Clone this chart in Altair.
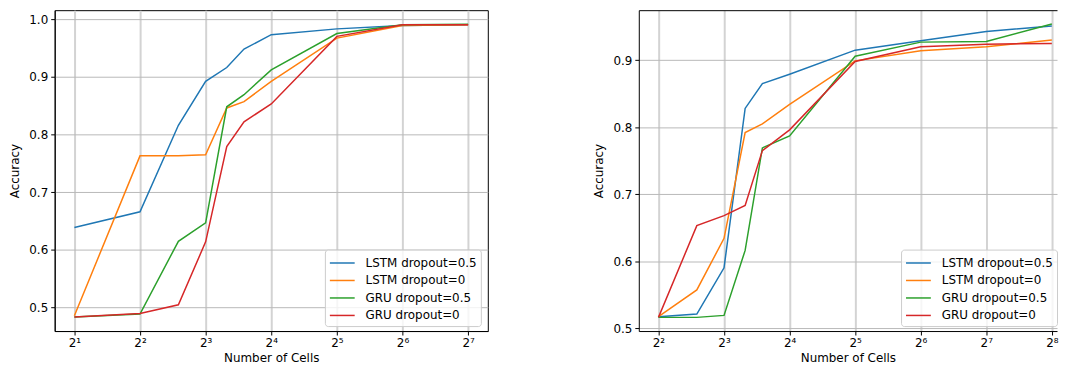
import altair as alt
import pandas as pd

series_names = ["LSTM dropout=0.5", "LSTM dropout=0", "GRU dropout=0.5", "GRU dropout=0"]
series_colors = ["#1f77b4", "#ff7f0e", "#2ca02c", "#d62728"]

# Left panel
left_cells = [2, 4, 6, 8, 10, 12, 16, 32, 64, 128]
left_lstm_05 = [0.639, 0.666, 0.816, 0.892, 0.916, 0.948, 0.973, 0.983, 0.989, 0.990]
left_lstm_0 = [0.486, 0.763, 0.763, 0.765, 0.846, 0.857, 0.892, 0.967, 0.989, 0.990]
left_gru_05 = [0.484, 0.489, 0.615, 0.647, 0.848, 0.869, 0.912, 0.975, 0.990, 0.991]
left_gru_0 = [0.484, 0.490, 0.505, 0.614, 0.779, 0.822, 0.853, 0.970, 0.990, 0.990]

# Right panel
right_cells = [4, 6, 8, 10, 12, 16, 32, 64, 128, 256]
right_lstm_05 = [0.517, 0.521, 0.590, 0.828, 0.865, 0.879, 0.915, 0.929, 0.943, 0.951]
right_lstm_0 = [0.517, 0.557, 0.634, 0.792, 0.805, 0.834, 0.899, 0.914, 0.920, 0.930]
right_gru_05 = [0.516, 0.516, 0.519, 0.616, 0.769, 0.787, 0.906, 0.927, 0.928, 0.954]
right_gru_0 = [0.516, 0.653, 0.668, 0.683, 0.765, 0.796, 0.898, 0.920, 0.924, 0.925]

left_x_ticks = [2, 4, 8, 16, 32, 64, 128]
left_x_labels = ["2¹", "2²", "2³", "2⁴", "2⁵", "2⁶", "2⁷"]
right_x_ticks = [4, 8, 16, 32, 64, 128, 256]
right_x_labels = ["2²", "2³", "2⁴", "2⁵", "2⁶", "2⁷", "2⁸"]
left_y_ticks = [0.5, 0.6, 0.7, 0.8, 0.9, 1.0]
right_y_ticks = [0.5, 0.6, 0.7, 0.8, 0.9]

FONT = "DejaVu Sans"
PX_PER_OCTAVE = 66.0
PLOT_H = 323


def make_df(cells, lists):
    rows = []
    for name, vals in zip(series_names, lists):
        for c, v in zip(cells, vals):
            rows.append({"cells": c, "acc": v, "series": name})
    return pd.DataFrame(rows)


def label_expr(ticks, labels):
    expr = "''"
    for t, l in reversed(list(zip(ticks, labels))):
        expr = f"datum.value == {t} ? '{l}' : ({expr})"
    return expr


def panel(df, xdomain, ydomain, xticks, xlabels, yticks, width, lx, ly, framed):
    xscale = alt.Scale(type="log", base=2, domain=xdomain, nice=False)
    yscale = alt.Scale(domain=ydomain, zero=False, nice=False)
    lines = alt.Chart(df).mark_line(strokeWidth=1.5, clip=True).encode(
        x=alt.X("cells:Q", scale=xscale,
                axis=alt.Axis(values=xticks, labelExpr=label_expr(xticks, xlabels),
                              title="Number of Cells")),
        y=alt.Y("acc:Q", scale=yscale,
                axis=alt.Axis(values=yticks, format=".1f", title="Accuracy")),
        color=alt.Color(
            "series:N",
            scale=alt.Scale(domain=series_names, range=series_colors),
            legend=alt.Legend(
                orient="none", legendX=lx, legendY=ly, title=None,
                symbolType="M-1,0H1.94", symbolSize=289, symbolStrokeWidth=1.5,
                labelFont=FONT, labelFontSize=12, labelColor="black",
                labelOffset=18, padding=4, rowPadding=1.6,
                fillColor="rgba(255,255,255,0.8)", strokeColor="#cccccc",
                cornerRadius=3,
            ),
            sort=series_names,
        ),
    )
    if framed:
        return lines.properties(width=width, height=PLOT_H,
                                view=alt.ViewBackground(stroke="black", strokeWidth=1))
    # top frame line drawn as a label-less top axis (right border is off-screen)
    top = alt.Chart(df).mark_point(opacity=0).encode(
        x=alt.X("cells:Q", scale=xscale,
                axis=alt.Axis(orient="top", labels=False, ticks=False, grid=False,
                              title=None, domain=True, domainColor="black")),
    )
    return alt.layer(lines, top).resolve_axis(x="independent").properties(
        width=width, height=PLOT_H,
        view=alt.ViewBackground(stroke="transparent"))


left_w = 436
left_domain = [2 ** 0.7, 2 ** 7.3]
right_w = 421
right_domain = [2 ** 1.7, 2 ** (1.7 + right_w / PX_PER_OCTAVE)]

left = panel(make_df(left_cells, [left_lstm_05, left_lstm_0, left_gru_05, left_gru_0]),
             left_domain, [0.4595, 1.0154], left_x_ticks, left_x_labels,
             left_y_ticks, left_w, 272, 241, True)
right = panel(make_df(right_cells, [right_lstm_05, right_lstm_0, right_gru_05, right_gru_0]),
              right_domain, [0.4956, 0.9747], right_x_ticks, right_x_labels,
              right_y_ticks, right_w, 264, 241, False)

chart = alt.hconcat(left, right, spacing=104).resolve_scale(color="independent").resolve_legend(
    color="independent"
).properties(padding=0, background="white").configure_axis(
    labelFont=FONT, labelFontSize=12, labelColor="black",
    titleFont=FONT, titleFontSize=12, titleFontWeight="normal", titleColor="black",
    domainColor="black", tickColor="black", tickSize=4, labelPadding=3, grid=True,
).configure_axisX(
    gridColor="#d3d3d3", gridWidth=2, labelPadding=3, titlePadding=4,
).configure_axisY(
    gridColor="#b8b8b8", gridWidth=1, titlePadding=7,
)

chart.save("out.html", embed_options={"renderer": "svg", "actions": False})
